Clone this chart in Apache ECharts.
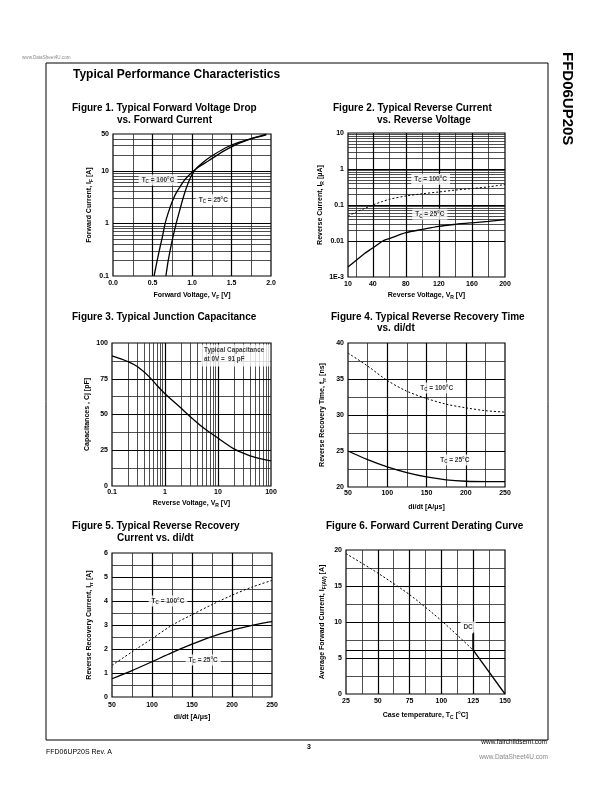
<!DOCTYPE html>
<html><head><meta charset="utf-8">
<script src="https://cdn.jsdelivr.net/npm/echarts@6/dist/echarts.min.js"></script>
<style>html,body{margin:0;padding:0;background:#fff}#c{width:612px;height:792px}</style>
</head><body><div id="c"></div>
<script>
// ================= DATA =================
// Figure 1: forward voltage (V) vs forward current (A)
const fig1VfTc100 = [0.52,0.56,0.6,0.63,0.66,0.7,0.75,0.8,0.85,0.9,0.95,1.0,1.05,1.1,1.2,1.3,1.4,1.5,1.6,1.7,1.8,1.94];
const fig1IfTc100 = [0.1,0.2,0.38,0.6,1,1.6,2.6,3.8,5,6.5,7.9,9.4,10.8,12.2,15.2,19,23.6,28.5,33.5,38.3,42.5,48];
const fig1VfTc25  = [0.67,0.7,0.75,0.8,0.85,0.9,0.95,1.0,1.05,1.1,1.19,1.3,1.44,1.6,1.8,1.94];
const fig1IfTc25  = [0.1,0.2,0.48,1,1.9,3.5,5.8,8.5,10.9,12.9,16.6,21.3,28,35,43,49.5];
const fig1XTicks = [0,0.5,1,1.5,2];        const fig1XLabels = ['0.0','0.5','1.0','1.5','2.0'];
const fig1YTicks = [0.1,1,10,50];          const fig1YLabels = ['0.1','1','10','50'];
const fig1XMajor = [0.5,1,1.5];            const fig1XMinor = [0.25,0.75,1.25,1.75];
const fig1YMajor = [1,10];
const fig1YMinor = [0.2,0.3,0.4,0.5,0.6,0.7,0.8,0.9,2,3,4,5,6,7,8,9,20,30,40];

// Figure 2: reverse voltage (V) vs reverse current (uA)
const fig2Vr = [10,20,30,40,52,60,80,100,120,140,160,180,200];
const fig2IrTc100 = [0.049,0.064,0.08,0.1,0.126,0.144,0.178,0.205,0.23,0.26,0.286,0.32,0.37];
const fig2IrTc25  = [0.0019,0.0029,0.0045,0.0064,0.01,0.0117,0.017,0.021,0.0256,0.029,0.032,0.035,0.039];
const fig2XTicks = [10,40,80,120,160,200]; const fig2XLabels = ['10','40','80','120','160','200'];
const fig2YTicks = [0.001,0.01,0.1,1,10];  const fig2YLabels = ['1E-3','0.01','0.1','1','10'];
const fig2XMajor = [40,80,120,160];        const fig2XMinor = [20,60,100,140,180];
const fig2YMajor = [0.01,0.1,1];
const fig2YMinor = [0.002,0.003,0.004,0.005,0.006,0.007,0.008,0.009,0.02,0.03,0.04,0.05,0.06,0.07,0.08,0.09,
                    0.2,0.3,0.4,0.5,0.6,0.7,0.8,0.9,2,3,4,5,6,7,8,9];

// Figure 3: reverse voltage (V) vs junction capacitance (pF)
const fig3Vr = [0.1,0.2,0.3,0.5,0.7,1,2,3,5,10,20,30,50,100];
const fig3Cj = [91,87,83.5,76.5,70.5,64.5,54.5,48.5,41.5,33.5,26,23,20,17.5];
const fig3XTicks = [0.1,1,10,100];         const fig3XLabels = ['0.1','1','10','100'];
const fig3YTicks = [0,25,50,75,100];       const fig3YLabels = ['0','25','50','75','100'];
const fig3XMajor = [1,10];
const fig3XMinor = [0.2,0.3,0.4,0.5,0.6,0.7,0.8,0.9,2,3,4,5,6,7,8,9,20,30,40,50,60,70,80,90];
const fig3YMajor = [25,50,75];             const fig3YMinor = [12.5,37.5,62.5,87.5];

// Figure 4: di/dt (A/us) vs trr (ns)
const fig4DiDt = [50,75,100,125,150,175,200,225,250];
const fig4TrrTc100 = [38.6,36.8,34.8,33.3,32.3,31.5,31.0,30.6,30.4];
const fig4TrrTc25  = [25.0,23.8,22.8,22.0,21.4,21.0,20.8,20.75,20.75];
const fig4XTicks = [50,100,150,200,250];   const fig4XLabels = ['50','100','150','200','250'];
const fig4YTicks = [20,25,30,35,40];       const fig4YLabels = ['20','25','30','35','40'];
const fig4XMajor = [100,150,200];          const fig4XMinor = [75,125,175,225];
const fig4YMajor = [25,30,35];             const fig4YMinor = [22.5,27.5,32.5,37.5];

// Figure 5: di/dt (A/us) vs Irr (A)
const fig5DiDt = [50,75,100,125,150,175,200,225,250];
const fig5IrrTc100 = [1.32,1.88,2.43,2.99,3.43,3.85,4.24,4.58,4.86];
const fig5IrrTc25  = [0.76,1.1,1.47,1.85,2.2,2.52,2.78,2.98,3.15];
const fig5XTicks = [50,100,150,200,250];   const fig5XLabels = ['50','100','150','200','250'];
const fig5YTicks = [0,1,2,3,4,5,6];        const fig5YLabels = ['0','1','2','3','4','5','6'];
const fig5XMajor = [100,150,200];          const fig5XMinor = [75,125,175,225];
const fig5YMajor = [1,2,3,4,5];            const fig5YMinor = [0.5,1.5,2.5,3.5,4.5,5.5];

// Figure 6: case temperature (C) vs average forward current (A)
const fig6TcDashed = [25,50,75,100,125];
const fig6IfDashed = [19.5,16.8,13.8,10.2,6.1];
const fig6TcSolid  = [125,150];
const fig6IfSolid  = [6.1,0];
const fig6DcMarkTc = [125,125];
const fig6DcMarkIf = [6.1,8.4];
const fig6XTicks = [25,50,75,100,125,150]; const fig6XLabels = ['25','50','75','100','125','150'];
const fig6YTicks = [0,5,10,15,20];         const fig6YLabels = ['0','5','10','15','20'];
const fig6XMajor = [50,75,100,125];        const fig6XMinor = [37.5,62.5,87.5,112.5,137.5];
const fig6YMajor = [5,6.1,10,15];          const fig6YMinor = [2.5,7.5,12.5,17.5];

// annotation anchors (data coordinates)
const fig1Note100 = [0.57,6.7],  fig1Note25 = [1.27,2.8];
const fig2Note100 = [110,0.52],  fig2Note25 = [109,0.055];
const fig3Note    = [4.8,99];
const fig4Note100 = [163,33.75], fig4Note25 = [186,23.75];
const fig5Note100 = [120,4.0],   fig5Note25 = [164,1.54];
const fig6NoteDc  = [121,9.3];

// ================= STYLE / BUILD =================
const F = '"Liberation Sans", Arial, Helvetica, sans-serif';
const RICH = {
  n:  {fontFamily:F, fontSize:7, fontWeight:'bold', color:'#000', lineHeight:10},
  s:  {fontFamily:F, fontSize:5, fontWeight:'bold', color:'#000', lineHeight:5, verticalAlign:'bottom'},
  a:  {fontFamily:F, fontSize:6.5, fontWeight:'bold', color:'#000', lineHeight:9},
  as: {fontFamily:F, fontSize:4.5, fontWeight:'bold', color:'#000', lineHeight:4, verticalAlign:'bottom'},
  b:  {fontFamily:F, fontSize:6.3, fontWeight:'bold', color:'#000', lineHeight:8.5}
};
const grids = [
  {left:113, top:134, width:158, height:142},
  {left:348, top:133, width:157, height:144},
  {left:112, top:343, width:159, height:143},
  {left:348, top:343, width:157, height:144},
  {left:112, top:553, width:160, height:144},
  {left:346, top:550, width:159, height:144}
].map(g => Object.assign({show:true, borderColor:'#000', borderWidth:1.2, backgroundColor:'transparent',
   containLabel:false, outerBoundsMode:'none'}, g));

function lookup(v, ticks, labels) {
  for (let i = 0; i < ticks.length; i++) {
    if (Math.abs(ticks[i] - v) <= 1e-6 * Math.max(Math.abs(ticks[i]), 1e-9)) return labels[i];
  }
  return '';
}
function axis(gi, type, min, max, interval, ticks, labels, name, gap, margin) {
  const ax = {
    gridIndex: gi, type, min, max,
    axisLine:{show:false}, axisTick:{show:false}, splitLine:{show:false},
    minorTick:{show:false}, minorSplitLine:{show:false},
    axisLabel:{fontFamily:F, fontSize:7, fontWeight:'bold', color:'#000', margin,
      showMinLabel:true, showMaxLabel:true, hideOverlap:false,
      formatter: v => lookup(v, ticks, labels)},
    name, nameLocation:'middle', nameGap:gap,
    nameTextStyle:{rich:RICH, fontFamily:F, fontSize:7, color:'#000'}
  };
  if (type === 'value') ax.interval = interval; else ax.logBase = 10;
  return ax;
}
const zip = (xs, ys) => xs.map((x, i) => [x, ys[i]]);
function curve(gi, xs, ys, dashed, smooth) {
  return {type:'line', xAxisIndex:gi, yAxisIndex:gi, data:zip(xs, ys), showSymbol:false, symbol:'none',
    smooth: smooth === undefined ? 0.3 : smooth, silent:true, animation:false, z:5,
    lineStyle:{color:'#000', width: dashed ? 1 : 1.3, type: dashed ? [2,2] : 'solid'}};
}
function gridLines(gi, anchor, xMaj, xMin, yMaj, yMin, extra) {
  const MAJ = {color:'#000', width:1.2, type:'solid'};
  const MIN = {color:'#222', width:0.8, type:'solid'};
  const data = [].concat(
    xMin.map(v => ({xAxis:v, lineStyle:MIN})),
    yMin.map(v => ({yAxis:v, lineStyle:MIN})),
    xMaj.map(v => ({xAxis:v, lineStyle:MAJ})),
    yMaj.map(v => ({yAxis:v, lineStyle:MAJ})),
    extra || []);
  return {type:'line', xAxisIndex:gi, yAxisIndex:gi, data:[anchor], symbol:'none', showSymbol:false,
    lineStyle:{opacity:0}, silent:true, animation:false, z:2,
    markLine:{silent:true, symbol:['none','none'], label:{show:false}, animation:false, data}};
}
function note(gi, pos, text, extra) {
  return {type:'scatter', xAxisIndex:gi, yAxisIndex:gi, data:[pos], symbolSize:0, silent:true,
    animation:false, z:10,
    label:Object.assign({show:true, position:'inside', formatter:text, rich:RICH,
      backgroundColor:'#fff', padding:[1,3,1,3]}, extra || {})};
}
const T100 = '{a|T}{as|C}{a| = 100°C}';
const T25  = '{a|T}{as|C}{a| = 25°C}';

const xAxes = [
  axis(0,'value',0,2,0.5,fig1XTicks,fig1XLabels,'{n|Forward Voltage, V}{s|F}{n| [V]}',14,4),
  axis(1,'value',10,200,10,fig2XTicks,fig2XLabels,'{n|Reverse Voltage, V}{s|R}{n| [V]}',13,4),
  axis(2,'log',0.1,100,null,fig3XTicks,fig3XLabels,'{n|Reverse Voltage, V}{s|R}{n| [V]}',12,3),
  axis(3,'value',50,250,50,fig4XTicks,fig4XLabels,'{n|di/dt [A/μs]}',15,3),
  axis(4,'value',50,250,50,fig5XTicks,fig5XLabels,'{n|di/dt [A/μs]}',15,5),
  axis(5,'value',25,150,25,fig6XTicks,fig6XLabels,'{n|Case temperature, T}{s|C}{n| [°C]}',16,4)
];
const yAxes = [
  axis(0,'log',0.1,50,null,fig1YTicks,fig1YLabels,'{n|Forward Current, I}{s|F}{n| [A]}',19,4),
  axis(1,'log',0.001,10,null,fig2YTicks,fig2YLabels,'{n|Reverse Current, I}{s|R}{n| [μA]}',18,4),
  axis(2,'value',0,100,25,fig3YTicks,fig3YLabels,'{n|Capacitances , Cj [pF]}',20,4),
  axis(3,'value',20,40,5,fig4YTicks,fig4YLabels,'{n|Reverse Recovery Time, t}{s|rr}{n| [ns]}',21,4),
  axis(4,'value',0,6,1,fig5YTicks,fig5YLabels,'{n|Reverse Recovery Current, I}{s|rr}{n| [A]}',18,4),
  axis(5,'value',0,20,5,fig6YTicks,fig6YLabels,'{n|Average Forward Current, I}{s|F(AV)}{n| [A]}',19,4)
];

const series = [
  gridLines(0,[0,0.1],fig1XMajor,fig1XMinor,fig1YMajor,fig1YMinor),
  curve(0,fig1VfTc100,fig1IfTc100,false),
  curve(0,fig1VfTc25,fig1IfTc25,false),
  note(0,fig1Note100,T100), note(0,fig1Note25,T25),

  gridLines(1,[10,0.001],fig2XMajor,fig2XMinor,fig2YMajor,fig2YMinor),
  curve(1,fig2Vr,fig2IrTc100,true),
  curve(1,fig2Vr,fig2IrTc25,false),
  note(1,fig2Note100,T100), note(1,fig2Note25,T25),

  gridLines(2,[0.1,0],fig3XMajor,fig3XMinor,fig3YMajor,fig3YMinor),
  curve(2,fig3Vr,fig3Cj,false),
  note(2,fig3Note,'{b|Typical Capacitance}\n{b|at 0V =  91 pF}',
       {position:[0,0], align:'left', verticalAlign:'top', padding:[2,6,3,3]}),

  gridLines(3,[50,20],fig4XMajor,fig4XMinor,fig4YMajor,fig4YMinor),
  curve(3,fig4DiDt,fig4TrrTc100,true),
  curve(3,fig4DiDt,fig4TrrTc25,false),
  note(3,fig4Note100,T100), note(3,fig4Note25,T25),

  gridLines(4,[50,0],fig5XMajor,fig5XMinor,fig5YMajor,fig5YMinor),
  curve(4,fig5DiDt,fig5IrrTc100,true),
  curve(4,fig5DiDt,fig5IrrTc25,false),
  note(4,fig5Note100,T100), note(4,fig5Note25,T25),

  gridLines(5,[25,0],fig6XMajor,fig6XMinor,fig6YMajor,fig6YMinor),
  curve(5,fig6TcDashed,fig6IfDashed,true,0.2),
  curve(5,fig6TcSolid,fig6IfSolid,false,false),
  Object.assign(curve(5,fig6DcMarkTc,fig6DcMarkIf,false,false),{lineStyle:{color:'#000',width:1.8}}),
  note(5,fig6NoteDc,'{a|DC}')
];

function txt(x, y, text, font, extra) {
  return {type:'text', x, y, silent:true, z:100,
    style:Object.assign({text, font, fill:'#000', align:'left', verticalAlign:'middle'}, extra || {})};
}
const TF = 'bold 10px ' + F;
const graphic = [
  txt(22, 58, 'www.DataSheet4U.com', '4.6px ' + F, {fill:'#888'}),
  {type:'rect', silent:true, z:1, shape:{x:46, y:63, width:502, height:677},
   style:{fill:'none', stroke:'#000', lineWidth:1}},
  txt(73, 75, 'Typical Performance Characteristics', 'bold 12px ' + F),
  {type:'text', x:567, y:52, rotation:-Math.PI/2, silent:true, z:100,
   style:{text:'FFD06UP20S', font:'bold 15px ' + F, fill:'#000', align:'left', verticalAlign:'middle'}},
  txt(72, 108.5, 'Figure 1. Typical Forward Voltage Drop', TF),
  txt(117, 120, 'vs. Forward Current', TF),
  txt(333, 108.5, 'Figure 2. Typical Reverse Current', TF),
  txt(377, 120, 'vs. Reverse Voltage', TF),
  txt(72, 317, 'Figure 3. Typical Junction Capacitance', TF),
  txt(331, 317, 'Figure 4. Typical Reverse Recovery Time', TF),
  txt(377, 328, 'vs. di/dt', TF),
  txt(72, 526.5, 'Figure 5. Typical Reverse Recovery', TF),
  txt(117, 538, 'Current vs. di/dt', TF),
  txt(326, 526.5, 'Figure 6. Forward Current Derating Curve', TF),
  txt(46, 752, 'FFD06UP20S Rev. A', '7px ' + F),
  txt(309, 747, '3', 'bold 7px ' + F, {align:'center'}),
  txt(547, 742, 'www.fairchildsemi.com', '6.5px ' + F, {align:'right'}),
  txt(548, 757, 'www.DataSheet4U.com', '6.5px ' + F, {align:'right', fill:'#888'})
];

const chart = echarts.init(document.getElementById('c'), null, {renderer:'canvas'});
chart.setOption({
  backgroundColor:'#fff', animation:false,
  grid: grids, xAxis: xAxes, yAxis: yAxes, series, graphic
});
</script></body></html>
